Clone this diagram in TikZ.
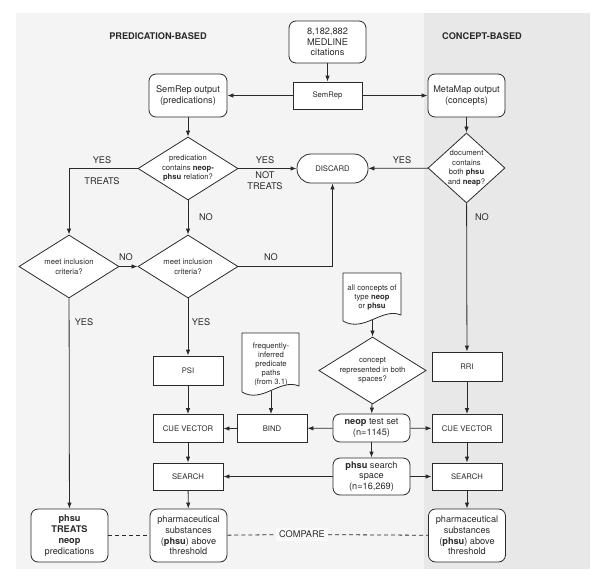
\documentclass[tikz,border=0pt]{standalone}
\usepackage{fontspec}
\setmainfont{TeX Gyre Heros}
\usetikzlibrary{shapes.geometric,arrows.meta}
\newcommand{\flowsmall}{\fontsize{7.7}{9.5}\selectfont}
\newcommand{\flownorm}{\fontsize{9.2}{10.8}\selectfont}
\definecolor{panelleft}{HTML}{F4F4F4}
\definecolor{panelright}{HTML}{E8E8E8}
\definecolor{flowline}{HTML}{2A2A2A}
\begin{document}
\begin{tikzpicture}[x=1pt,y=-1pt,line width=0.8pt,color=flowline,
  rbox/.style={draw,fill=white,rounded corners=7pt,align=center,inner sep=0pt,font=\flownorm},
  sbox/.style={draw,fill=white,minimum width=70pt,minimum height=28pt,align=center,inner sep=0pt,font=\flowsmall},
  dbox/.style={draw,fill=white,diamond,aspect=1.6,inner sep=0pt,align=center,font=\flowsmall,
    minimum width=100pt,minimum height=63pt},
  lbl/.style={font=\flownorm,align=center},
  arr/.style={-{Latex[length=6pt,width=4.5pt]}},
  docline/.style={draw,fill=white,line join=round},
  cmp/.style={dash pattern=on 4pt off 3pt}]
\useasboundingbox (0,0) rectangle (600,576);
\fill[panelleft] (16,13) rectangle (424,569);
\fill[panelright] (424,13) rectangle (590,569);

\node[font=\flownorm\bfseries] (predtitle) at (158,36) {PREDICATION-BASED};
\node[font=\flownorm\bfseries] (conctitle) at (482,36) {CONCEPT-BASED};

\node[rbox,minimum width=77pt,minimum height=42pt] (medline) at (327.5,42) {8,182,882\\MEDLINE\\citations};
\node[sbox,minimum width=69pt,minimum height=27pt] (semrep) at (327.5,95.5) {SemRep};
\node[rbox,minimum width=78pt,minimum height=43pt] (semout) at (188,95.5) {SemRep output\\(predications)};
\node[rbox,minimum width=77pt,minimum height=43pt] (metaout) at (466.5,95.5) {MetaMap output\\(concepts)};

\node[dbox] (preddia) at (188,168.5) {predication\\contains \textbf{neop-}\\\textbf{phsu} relation?};
\node[rbox,rounded corners=14pt,font=\flowsmall,minimum width=71pt,minimum height=29pt] (discard) at (332.5,168.5) {DISCARD};
\node[dbox,aspect=1.1,minimum width=77pt,minimum height=70pt] (docdia) at (466.5,168) {document\\contains\\both \textbf{phsu}\\and \textbf{neap}?};

\node[dbox] (leftdia) at (69,266.5) {meet inclusion\\criteria?};
\node[dbox] (middia) at (188,266.5) {meet inclusion\\criteria?};

\node[sbox,minimum height=29pt] (psi) at (188,370.5) {PSI};
\node[sbox,minimum height=29pt] (rri) at (467,366.5) {RRI};

% document shapes
\draw[docline] (242,333) -- (299,333) -- (299,386) .. controls (280,378) and (262,404) .. (242,392) -- cycle;
\node[align=center,font=\fontsize{7.7}{9}\selectfont] (freq) at (271,364.7) {frequently-\\inferred\\predicate\\paths\\(from 3.1)};
\coordinate (freqbot) at (271,390.5);
\draw[docline] (343,273) -- (401,273) -- (401,315) .. controls (382,307) and (364,333) .. (343,321) -- cycle;
\node[align=center,font=\fontsize{7.7}{9.2}\selectfont] (allconc) at (372,297.7) {all concepts of\\type \textbf{neop}\\or \textbf{phsu}};
\coordinate (allbot) at (372.5,319.5);

\node[dbox,minimum width=101pt] (concdia) at (372.5,370.5) {concept\\represented in both\\spaces?};
\node[rbox,minimum width=77pt,minimum height=28pt] (neop) at (371.5,428) {\textbf{neop} test set\\(n=1145)};
\node[rbox,minimum width=77pt,minimum height=37pt] (phsuss) at (371.5,476.5) {\textbf{phsu} search\\space\\(n=16,269)};

\node[sbox] (bind) at (272,428.5) {BIND};
\node[sbox] (cueL) at (188,428.5) {CUE VECTOR};
\node[sbox] (cueR) at (467,428.5) {CUE VECTOR};
\node[sbox,minimum height=27pt] (searchL) at (188,476.5) {SEARCH};
\node[sbox,minimum height=27pt] (searchR) at (467,476.5) {SEARCH};

\node[rbox,minimum width=77pt,minimum height=53pt] (resL) at (69.5,535.5) {\textbf{phsu}\\\textbf{TREATS}\\\textbf{neop}\\predications};
\node[rbox,minimum width=77pt,minimum height=53pt] (resM) at (188.5,535.5) {pharmaceutical\\substances\\(\textbf{phsu}) above\\threshold};
\node[rbox,minimum width=77pt,minimum height=53pt] (resR) at (467,535.5) {pharmaceutical\\substances\\(\textbf{phsu}) above\\threshold};
\node[lbl,fill=white!55!panelleft,inner sep=3pt] (compare) at (302,534.5) {COMPARE};

% labels
\node[lbl] (yesA) at (102,160) {YES};
\node[lbl] (treatsA) at (102,181) {TREATS};
\node[lbl] (yesB) at (265,160) {YES};
\node[lbl] (notreats) at (265,181) {NOT\\TREATS};
\node[lbl] (noA) at (206,217) {NO};
\node[lbl] (noB) at (126,257) {NO};
\node[lbl] (noC) at (271,257) {NO};
\node[lbl] (yesC) at (402,160) {YES};
\node[lbl] (noD) at (482,217) {NO};
\node[lbl] (yesD) at (84,322) {YES};
\node[lbl] (yesE) at (201,322) {YES};

% connectors
\draw[arr] (medline) -- (semrep);
\draw[arr] (semrep) -- (semout);
\draw[arr] (semrep) -- (metaout);
\draw[arr] (semout) -- (preddia);
\draw[arr] (metaout) -- (docdia);
\draw[arr] (docdia) -- (discard);
\draw[arr] (preddia) -- (discard);
\draw[arr] (preddia.west) -| (leftdia.north);
\draw[arr] (preddia) -- (middia);
\draw[arr] (leftdia) -- (middia);
\draw[arr] (middia.east) -| (discard.south);
\draw[arr] (leftdia) -- (resL);
\draw[arr] (middia) -- (psi);
\draw[arr] (docdia) -- (rri);
\draw[arr] (psi) -- (cueL);
\draw[arr] (freqbot) -- (freqbot |- bind.north);
\draw[arr] (bind) -- (cueL);
\draw[arr] (allbot) -- (concdia.north);
\draw[arr] (concdia) -- (neop);
\draw[arr] (neop) -- (bind);
\draw[arr] (neop) -- (cueR);
\draw[arr] (neop) -- (phsuss);
\draw[arr] (phsuss) -- (searchL);
\draw[arr] (phsuss) -- (searchR);
\draw[arr] (rri) -- (cueR);
\draw[arr] (cueL) -- (searchL);
\draw[arr] (cueR) -- (searchR);
\draw[arr] (searchL) -- (resM);
\draw[arr] (searchR) -- (resR);
\draw[cmp] (resL) -- (resM);
\draw[cmp] (resM) -- (compare) -- (resR);
\end{tikzpicture}
\end{document}
